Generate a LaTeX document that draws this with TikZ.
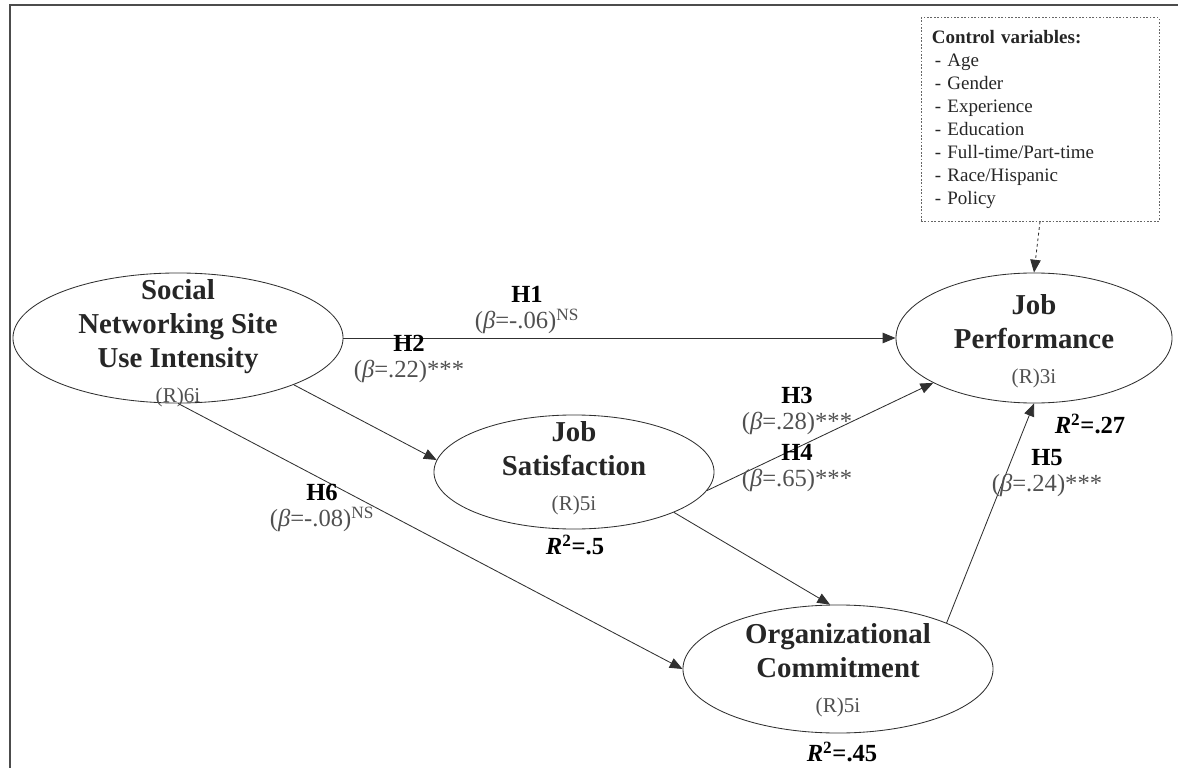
\documentclass[tikz,border=0pt]{standalone}
\usepackage{fontspec}
\setmainfont{Liberation Serif}
\usepackage{xcolor}
\usetikzlibrary{arrows.meta,shapes.geometric}

\definecolor{betagray}{HTML}{505050}
\definecolor{linegray}{HTML}{303030}

\newcommand{\indic}[1]{{\fontsize{15}{18}\selectfont\mdseries\color{betagray}#1}}
\newcommand{\beq}[2]{{\mdseries\color{betagray}(\textit{β}=#1)#2}}

\begin{document}
\begin{tikzpicture}[x=0.025cm,y=-0.025cm,line width=0.6pt]
\tikzstyle{latent}=[draw=linegray,ellipse,inner sep=0pt]
\tikzstyle{construct}=[align=center,font=\fontsize{20.5}{24.5}\selectfont\bfseries,text=black!85]
\tikzstyle{hyp}=[align=center,font=\fontsize{17.5}{19}\selectfont\bfseries]
\tikzstyle{rsq}=[font=\fontsize{17.5}{20}\selectfont\bfseries]
\tikzstyle{effect}=[draw=linegray,-{Triangle[length=0.32cm,width=0.26cm]}]

\useasboundingbox (0,0) rectangle (1178,768);
\draw[line width=1.4pt,black!70] (10,768) -- (10,5) -- (1178,5);

% constructs
\node[latent,minimum width=8.25cm,minimum height=3.25cm] (sns) at (178,338) {};
\node[latent,minimum width=7cm,minimum height=2.85cm] (js) at (574,472) {};
\node[latent,minimum width=7.75cm,minimum height=3.2cm] (oc) at (838,669) {};
\node[latent,minimum width=6.9cm,minimum height=3.25cm] (jp) at (1034,338) {};

\node[construct] (snstxt) at (178,343) {Social\\Networking Site\\Use Intensity\\\indic{(R)6i}};
\node[construct] (jstxt) at (574,468) {Job\\Satisfaction\\\indic{(R)5i}};
\node[construct] (octxt) at (838,670) {Organizational\\Commitment\\\indic{(R)5i}};
\node[construct] (jptxt) at (1034,341) {Job\\Performance\\\indic{(R)3i}};

% control variables
\node[draw=black!60,dash pattern=on 1.2pt off 1.2pt,minimum width=5.95cm,minimum height=5.08cm,
      text width=5.4cm,inner xsep=0.275cm,align=left,font=\fontsize{13.5}{16.3}\selectfont,
      text=black!85] (ctrl) at (1040,119.5)
  {\textbf{Control variables:}\\
   \hspace{2pt}- Age\\
   \hspace{2pt}- Gender\\
   \hspace{2pt}- Experience\\
   \hspace{2pt}- Education\\
   \hspace{2pt}- Full-time/Part-time\\
   \hspace{2pt}- Race/Hispanic\\
   \hspace{2pt}- Policy};

% paths
\path (sns.east)  edge[effect] (jp.west)
      (sns.-22)   edge[effect] (js.175)
      (sns.south) edge[effect] (oc.west)
      (js.-8)     edge[effect] (jp.-156)
      (js.-22)    edge[effect] (oc.97)
      (oc.23)     edge[effect] (jp.south);
\path (ctrl.south) edge[effect,dash pattern=on 2pt off 2pt] (jp.north);

% coefficients
\node[hyp] (h1) at (527,310) {H1\\\beq{-.06}{\textsuperscript{NS}}};
\node[hyp] (h2) at (409,359) {H2\\\beq{.22}{***}};
\node[hyp] (h3) at (797,411) {H3\\\beq{.28}{***}};
\node[hyp] (h4) at (797,468) {H4\\\beq{.65}{***}};
\node[hyp] (h5) at (1047,473) {H5\\\beq{.24}{***}};
\node[hyp] (h6) at (322,508) {H6\\\beq{-.08}{\textsuperscript{NS}}};

\node[rsq] (r2js) at (575,545) {\textit{R}\textsuperscript{2}=.5};
\node[rsq] (r2jp) at (1090,424) {\textit{R}\textsuperscript{2}=.27};
\node[rsq] (r2oc) at (842,752) {\textit{R}\textsuperscript{2}=.45};
\end{tikzpicture}
\end{document}
